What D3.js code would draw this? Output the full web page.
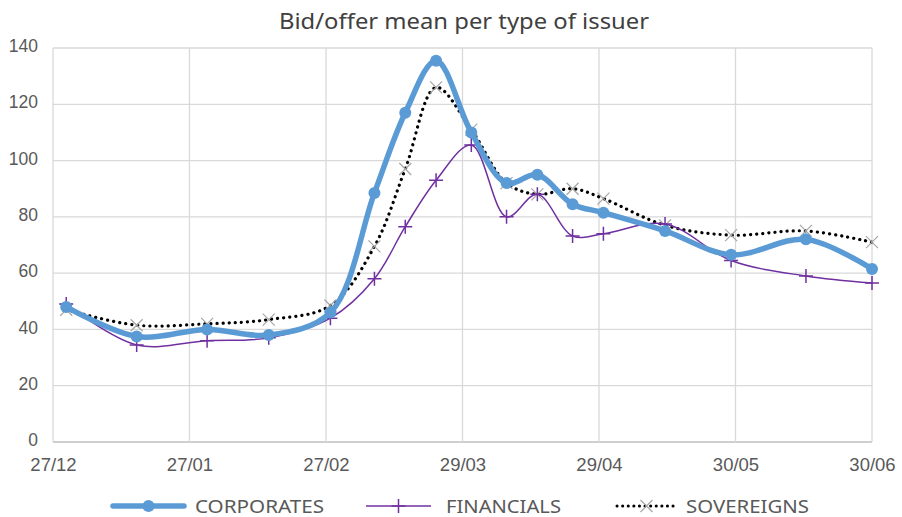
<!DOCTYPE html>
<html>
<head>
<meta charset="utf-8">
<script src="https://cdn.jsdelivr.net/npm/d3@7"></script>
<style>
  body { margin: 0; background: #fff; }
  svg { font-family: "Noto Sans", "Open Sans", sans-serif; }
</style>
</head>
<body>
<div id="chart"></div>
<script>
// Observation dates (dd/mm/yyyy)
const dates = [
  "30/12/2019", "15/01/2020", "31/01/2020", "14/02/2020", "28/02/2020",
  "09/03/2020", "16/03/2020", "23/03/2020", "31/03/2020", "08/04/2020",
  "15/04/2020", "23/04/2020", "30/04/2020", "14/05/2020", "29/05/2020",
  "15/06/2020", "30/06/2020"
];
const corporates = [48, 37.5, 40, 38, 46, 88.5, 117, 135.5, 110, 92, 95, 84.5, 81.5, 75, 66.5, 72, 61.5];
const financials = [49, 34.5, 36, 37, 44, 58, 76.5, 93, 105.5, 80, 88, 73.2, 74, 77.5, 64.5, 59, 56.5];
const sovereigns = [47, 41.5, 42, 43.5, 48.5, 69.5, 97, 126, 111, 92, 88, 90, 86.5, 77, 73.5, 75, 71];
const xTicks = ["27/12/2019", "27/01/2020", "27/02/2020", "29/03/2020", "29/04/2020", "30/05/2020", "30/06/2020"];
const yTicks = [0, 20, 40, 60, 80, 100, 120, 140];

const width = 902, height = 517;
const margin = { top: 48, right: 30, bottom: 75, left: 53 };

const parse = d3.timeParse("%d/%m/%Y");
const fmt = d3.timeFormat("%d/%m");

const svg = d3.select("#chart").append("svg")
  .attr("width", width)
  .attr("height", height);

const x = d3.scaleTime()
  .domain([parse(xTicks[0]), parse(xTicks[xTicks.length - 1])])
  .range([margin.left, width - margin.right]);

const y = d3.scaleLinear()
  .domain([0, 140])
  .range([height - margin.bottom, margin.top]);

// Gridlines
svg.append("g")
  .selectAll("line.h")
  .data(yTicks)
  .enter().append("line")
  .attr("x1", margin.left)
  .attr("x2", width - margin.right)
  .attr("y1", d => y(d))
  .attr("y2", d => y(d))
  .attr("stroke", d => d === 0 ? "#bfbfbf" : "#d9d9d9")
  .attr("stroke-width", 1.3);

svg.append("g")
  .selectAll("line.v")
  .data(xTicks)
  .enter().append("line")
  .attr("x1", d => x(parse(d)))
  .attr("x2", d => x(parse(d)))
  .attr("y1", y(0))
  .attr("y2", y(140))
  .attr("stroke", "#d9d9d9")
  .attr("stroke-width", 1.3);

// Axes (labels only)
const yAxis = svg.append("g")
  .attr("transform", `translate(${margin.left - 15},-2)`)
  .call(d3.axisLeft(y).tickValues(yTicks).tickSize(0).tickPadding(0));
yAxis.select(".domain").remove();
yAxis.selectAll("text")
  .attr("fill", "#595959")
  .style("font-size", "17.5px");

const xAxis = svg.append("g")
  .attr("transform", `translate(0,${y(0) + 10})`)
  .call(d3.axisBottom(x).tickValues(xTicks.map(parse)).tickFormat(fmt).tickSize(0).tickPadding(6));
xAxis.select(".domain").remove();
xAxis.selectAll("text")
  .attr("fill", "#595959")
  .style("font-size", "18.5px");

// Title
svg.append("text")
  .attr("x", 464)
  .attr("y", 29)
  .attr("text-anchor", "middle")
  .attr("fill", "#404040")
  .style("font-size", "22px")
  .attr("textLength", 370)
  .attr("lengthAdjust", "spacingAndGlyphs")
  .text("Bid/offer mean per type of issuer");

const curve = d3.curveCatmullRom.alpha(0.5);
const lineGen = vals => d3.line()
  .x((d, i) => x(parse(dates[i])))
  .y(d => y(d))
  .curve(curve)(vals);

const plot = svg.append("g");

// Sovereigns
plot.append("path")
  .attr("d", lineGen(sovereigns))
  .attr("fill", "none")
  .attr("stroke", "#000")
  .attr("stroke-width", 3.2)
  .attr("stroke-linecap", "round")
  .attr("stroke-dasharray", "0.1,6");

function crossX(g, cx, cy, s, color) {
  g.append("path")
    .attr("d", `M${cx - s},${cy - s}L${cx + s},${cy + s}M${cx - s},${cy + s}L${cx + s},${cy - s}`)
    .attr("stroke", color)
    .attr("stroke-width", 1.2)
    .attr("fill", "none");
}
function crossPlus(g, cx, cy, s, color) {
  g.append("path")
    .attr("d", `M${cx - s},${cy}L${cx + s},${cy}M${cx},${cy - s}L${cx},${cy + s}`)
    .attr("stroke", color)
    .attr("stroke-width", 1.5)
    .attr("fill", "none");
}

sovereigns.forEach((v, i) => crossX(plot, x(parse(dates[i])), y(v), 6, "#a6a6a6"));

// Financials
plot.append("path")
  .attr("d", lineGen(financials))
  .attr("fill", "none")
  .attr("stroke", "#7030a0")
  .attr("stroke-width", 1.5);
financials.forEach((v, i) => crossPlus(plot, x(parse(dates[i])), y(v), 7, "#7030a0"));

// Corporates
plot.append("path")
  .attr("d", lineGen(corporates))
  .attr("fill", "none")
  .attr("stroke", "#5b9bd5")
  .attr("stroke-width", 5.5)
  .attr("stroke-linejoin", "round");
plot.selectAll("circle.c")
  .data(corporates)
  .enter().append("circle")
  .attr("cx", (d, i) => x(parse(dates[i])))
  .attr("cy", d => y(d))
  .attr("r", 6)
  .attr("fill", "#5b9bd5");

// Legend
const ly = 506;
const legend = svg.append("g");
const legendText = (lx, len, label) => legend.append("text")
  .attr("x", lx).attr("y", ly + 6.5)
  .attr("fill", "#595959").style("font-size", "18px")
  .attr("textLength", len).attr("lengthAdjust", "spacingAndGlyphs")
  .text(label);

legend.append("line")
  .attr("x1", 113).attr("x2", 184).attr("y1", ly).attr("y2", ly)
  .attr("stroke", "#5b9bd5").attr("stroke-width", 5.5).attr("stroke-linecap", "round");
legend.append("circle")
  .attr("cx", 148.5).attr("cy", ly).attr("r", 6).attr("fill", "#5b9bd5");
legendText(195, 129, "CORPORATES");

legend.append("line")
  .attr("x1", 366).attr("x2", 431).attr("y1", ly).attr("y2", ly)
  .attr("stroke", "#7030a0").attr("stroke-width", 1.5);
crossPlus(legend, 398.5, ly, 7, "#7030a0");
legendText(446, 115, "FINANCIALS");

legend.append("line")
  .attr("x1", 617).attr("x2", 676).attr("y1", ly).attr("y2", ly)
  .attr("stroke", "#000").attr("stroke-width", 3)
  .attr("stroke-linecap", "round").attr("stroke-dasharray", "0.1,5.5");
crossX(legend, 646.5, ly, 6, "#a6a6a6");
legendText(686, 123, "SOVEREIGNS");
</script>
</body>
</html>
